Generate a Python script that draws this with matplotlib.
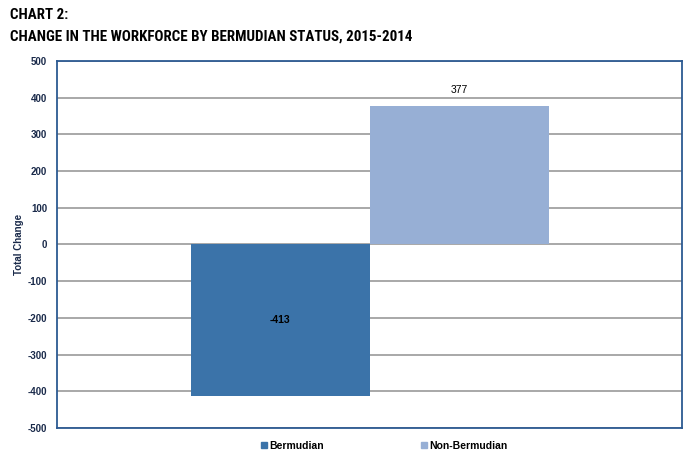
import matplotlib
matplotlib.use("Agg")
import matplotlib.pyplot as plt
from matplotlib.patches import Patch
from matplotlib import font_manager

plt.rcParams["font.family"] = ["Liberation Sans", "DejaVu Sans"]
plt.rcParams["axes.unicode_minus"] = False

categories = ["Bermudian", "Non-Bermudian"]
values = [-413, 377]
colors = ["#3b73a9", "#97afd5"]
yticks = [-500, -400, -300, -200, -100, 0, 100, 200, 300, 400, 500]

navy = "#1a2a4a"
spine = "#2c5a92"

# narrow font for the heading if one is around
names = {f.name for f in font_manager.fontManager.ttflist}
title_font, title_size = "Liberation Sans", 8.3
for cand, sz in [("Liberation Sans Narrow", 11.0), ("DejaVu Sans Condensed", 9.5),
                 ("Roboto Condensed", 10.85)]:
    if cand in names:
        title_font, title_size = cand, sz
        break

fig = plt.figure(figsize=(6.94, 4.57), dpi=100)
ax = fig.add_axes([57 / 694, 1 - 428 / 457, 625 / 694, 367 / 457])

w = 0.2864
offsets = [-w / 2, w / 2]
ax.bar(offsets, values, width=w, color=colors, zorder=2)

ax.set_xlim(-0.5, 0.5)
ax.set_ylim(-500, 500)
ax.set_yticks(yticks)
ax.set_xticks([])
ax.grid(axis="y", color="#9a9a9a", linewidth=1.2, zorder=0)
ax.tick_params(axis="y", length=0, pad=7, labelsize=7, labelcolor=navy)
for lbl in ax.get_yticklabels():
    lbl.set_fontweight("bold")
for s in ax.spines.values():
    s.set_color(spine)
    s.set_linewidth(1.3)
ax.set_ylabel("Total Change", fontsize=7, fontweight="bold", color=navy, labelpad=3)

# data labels
ax.text(offsets[0], values[0] / 2, str(values[0]), ha="center", va="center",
        fontsize=7.5, fontweight="bold", color="black")
ax.text(offsets[1], values[1] + 45, str(values[1]), ha="center", va="center",
        fontsize=7.5, color="black")

fig.text(10 / 694, 1 - 15 / 457, "CHART 2:", fontsize=title_size, fontweight="bold",
         family=title_font, va="center", ha="left")
fig.text(10 / 694, 1 - 36.5 / 457, "CHANGE IN THE WORKFORCE BY BERMUDIAN STATUS, 2015-2014",
         fontsize=title_size, fontweight="bold", family=title_font,
         va="center", ha="left")

handles = [Patch(color=c) for c in colors]
fig.legend(handles, categories, loc="center left", bbox_to_anchor=(252 / 694, 1 - 446 / 457),
           ncol=2, frameon=False, handlelength=0.55, handleheight=0.55,
           handletextpad=0.25, columnspacing=9.3,
           prop={"weight": "bold", "size": 7.5})

fig.savefig("out.png", dpi=100)
